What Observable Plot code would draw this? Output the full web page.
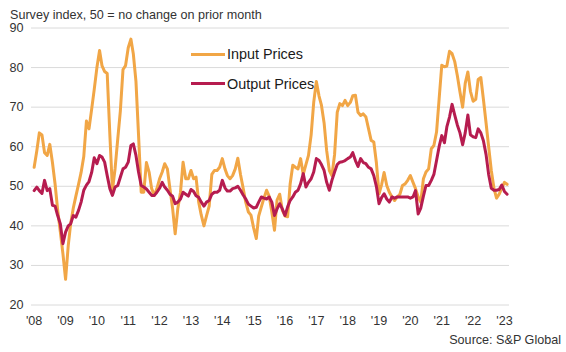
<!DOCTYPE html>
<html>
<head>
<meta charset="utf-8">
<script src="https://cdn.jsdelivr.net/npm/d3@7"></script>
<script src="https://cdn.jsdelivr.net/npm/@observablehq/plot@0.6"></script>
<style>
  body { margin: 0; background: #fff; font-family: "Liberation Sans", Arial, sans-serif; }
  #wrap { position: relative; width: 566px; height: 352px; overflow: hidden; background: #fff; }
  #chart { position: absolute; left: 0; top: 0; }
  #title { position: absolute; left: 10px; top: 6px; font-size: 12.6px; line-height: 18px; color: #333; white-space: nowrap; }
  #source { position: absolute; right: 5px; top: 331px; font-size: 12.6px; line-height: 18px; color: #333; white-space: nowrap; }
  .leg { position: absolute; left: 191px; height: 20px; display: flex; align-items: center; white-space: nowrap; }
  .leg .sw { width: 34px; height: 3px; }
  .leg .tx { margin-left: 2px; font-size: 14.4px; color: #1a1a1a; }
</style>
</head>
<body>
<div id="wrap">
  <div id="chart"></div>
  <div id="title">Survey index, 50 = no change on prior month</div>
  <div id="legend"></div>
  <div id="source">Source: S&amp;P Global</div>
</div>
<script>
// Monthly series, Jan 2008 .. Feb 2023
const firstYear = 2008;
const seriesNames = ["Input Prices", "Output Prices"];
const seriesColors = ["#F1A646", "#B61C4F"];

const inputPrices = [
  54.8, 59, 63.5, 63, 58.5, 57.8, 60.6, 56, 50.5, 44, 38.5, 33,          // 2008
  26.5, 35, 40.5, 44.5, 47.5, 50.5, 53.5, 57.5, 66.5, 64.5, 69.5, 74.5,  // 2009
  80, 84.3, 80.5, 79, 78.5, 63, 49, 54.5, 62, 69, 79.5, 80.5,            // 2010
  85, 87.2, 83.5, 76.5, 63, 48.5, 48.5, 56, 53.6, 49.4, 47.7, 49.4,      // 2011
  51.9, 53.6, 55.7, 54.4, 49.4, 44.4, 38, 44.4, 48.5, 56.1, 51.9, 51.9,  // 2012
  54, 51.9, 52.3, 46, 42.7, 40, 42.5, 45, 53, 54, 54, 54.8,              // 2013
  57, 54.4, 52.7, 51.9, 52.7, 54.4, 57.1, 53, 49.5, 46, 43.5, 42.7,      // 2014
  39.5, 36.8, 42.5, 44.8, 47, 49, 47.5, 43.5, 38.9, 46.5, 48, 44,        // 2015
  42.5, 42.3, 50.5, 55.3, 54.8, 54.4, 57, 53, 55.5, 57.8, 63, 71.2,      // 2016
  76.5, 72.8, 70.5, 66, 59, 54, 52.7, 58, 68.7, 70.9, 70.4, 71.7,        // 2017
  70.4, 71.2, 72.9, 73, 68.7, 67.9, 68.3, 67.5, 64.5, 61.6, 61.2, 56,    // 2018
  48.1, 50.5, 53.5, 50.2, 48.5, 47.3, 46.4, 47.3, 48, 50.2, 50.6, 51.5,  // 2019
  52.7, 51, 49.4, 47.3, 46, 51.9, 53.6, 54.4, 59.5, 60.3, 63.7, 72,      // 2020
  80.6, 80.2, 80.4, 84.1, 83.5, 81.5, 78, 73.8, 70, 76, 78.9, 74,        // 2021
  71.5, 72, 77, 77.5, 72, 66, 60, 54, 49.5, 47, 48, 49.5,                // 2022
  51, 50.5                                                               // 2023
];

const outputPrices = [
  48.9, 49.8, 48.9, 48.2, 51.5, 48.9, 49.4, 45.2, 45, 42.6, 40.5, 35.5,  // 2008
  38.4, 40, 40.5, 42.6, 42.2, 43.9, 46, 49, 50.3, 51.2, 53.5, 57.2,      // 2009
  55.7, 57.8, 57.4, 56.1, 52.7, 49.4, 47.7, 49.8, 50.2, 52.3, 54.4, 54.8,// 2010
  56.1, 60.3, 60.7, 57.8, 53.6, 50.2, 49.8, 49.3, 48.5, 47.7, 47.7, 48.5,// 2011
  49.5, 51, 49.8, 49, 48, 47.5, 45.6, 46, 46.8, 48.5, 48, 47.5,          // 2012
  49.2, 48.7, 47.6, 47.2, 46, 45, 46, 46.4, 48, 48.5, 48.5, 49,          // 2013
  51.5, 49.6, 48.8, 48.8, 49.4, 49.6, 50, 49, 47.8, 46.8, 45.5, 45,      // 2014
  44.5, 44.7, 46, 47.3, 47, 46.8, 47.3, 46, 42.6, 44.3, 45.6, 44.3,      // 2015
  42.6, 44.8, 46.4, 47.3, 48.5, 49, 50.6, 53.2, 49.8, 51, 51.9, 53.6,    // 2016
  57, 56.5, 55.5, 54, 51, 49, 51.5, 53.6, 55.5, 56.1, 56.2, 56.5,        // 2017
  57, 57.4, 58.5, 56.5, 55, 57, 56, 55.7, 54.8, 54.4, 52.7, 50,          // 2018
  45.6, 47.2, 48.1, 46.8, 46, 47.3, 47, 47.3, 47.3, 47.3, 47.3, 47.3,    // 2019
  47, 47.3, 48.9, 43, 44.5, 47.5, 50.2, 50.2, 51.5, 53, 56.5, 60,        // 2020
  62.8, 61, 65, 67.5, 70.7, 68, 65.5, 63.5, 60.5, 63.5, 68, 63,          // 2021
  62.5, 62.3, 64.5, 63.5, 61.5, 58, 53, 49.5, 49, 49, 49.2, 50.3,        // 2022
  48.7, 48                                                               // 2023
];

const yTicks = [20, 30, 40, 50, 60, 70, 80, 90];
const xTickYears = d3.range(2008, 2024);

const monthDate = i => new Date(Date.UTC(firstYear, i, 1));
const toRows = (arr, name) => arr.map((v, i) => ({date: monthDate(i), value: v, series: name}));
const inputRows = toRows(inputPrices, seriesNames[0]);
const outputRows = toRows(outputPrices, seriesNames[1]);

const plot = Plot.plot({
  width: 566,
  height: 332,
  marginLeft: 31,
  marginRight: 57,
  marginTop: 27.5,
  marginBottom: 27.5,
  style: {fontFamily: "'Liberation Sans', Arial, sans-serif", fontSize: "12.6px", color: "#333", background: "transparent"},
  x: {
    type: "utc",
    domain: [new Date(Date.UTC(2007, 11, 1)), new Date(Date.UTC(2023, 2, 1))],
    ticks: xTickYears.map(y => new Date(Date.UTC(y, 0, 1))),
    tickFormat: d => "'" + String(d.getUTCFullYear()).slice(2),
    tickSize: 0,
    tickPadding: 11.5,
    label: null
  },
  y: {
    domain: [20, 90],
    ticks: yTicks,
    tickSize: 0,
    tickPadding: 8,
    label: null
  },
  marks: [
    Plot.ruleY(yTicks, {stroke: "#dadada", strokeWidth: 1}),
    Plot.line(inputRows, {x: "date", y: "value", stroke: seriesColors[0], strokeWidth: 3, strokeLinejoin: "round", strokeLinecap: "round"}),
    Plot.line(outputRows, {x: "date", y: "value", stroke: seriesColors[1], strokeWidth: 3, strokeLinejoin: "round", strokeLinecap: "round"})
  ]
});
document.getElementById("chart").appendChild(plot);

// Legend
const legendTops = [44, 73.5];
const legend = document.getElementById("legend");
seriesNames.forEach((name, i) => {
  const item = document.createElement("div");
  item.className = "leg";
  item.style.top = legendTops[i] + "px";
  const sw = document.createElement("div");
  sw.className = "sw";
  sw.style.background = seriesColors[i];
  const tx = document.createElement("span");
  tx.className = "tx";
  tx.textContent = name;
  item.appendChild(sw);
  item.appendChild(tx);
  legend.appendChild(item);
});
</script>
</body>
</html>
